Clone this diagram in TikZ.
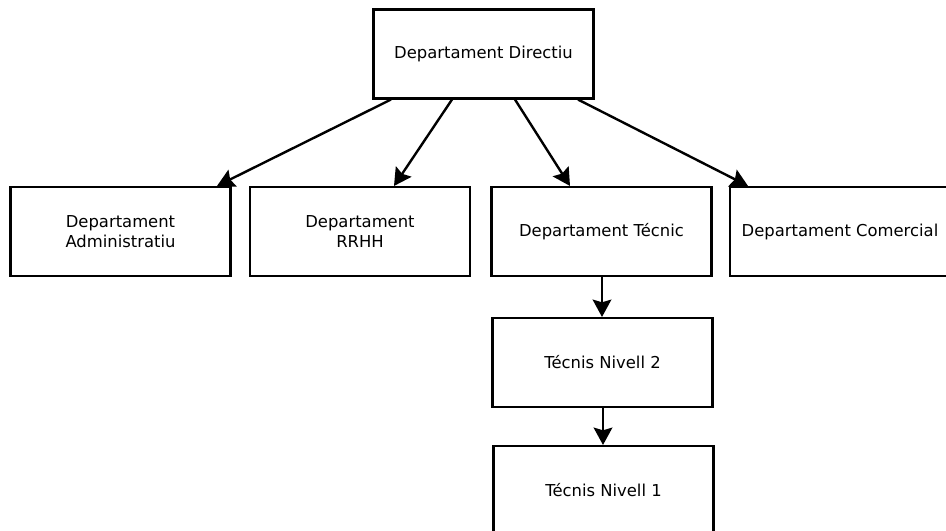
\documentclass[tikz,border=0pt]{standalone}
\usepackage{fontspec}
\setmainfont{DejaVu Sans}
\usetikzlibrary{arrows.meta}

\tikzset{
  deptbox/.style={draw, line width=1.8pt, minimum width=165pt, minimum height=66.5pt,
    inner sep=0pt, align=center, font=\fontsize{12.3}{15.5}\selectfont},
  arr/.style={-{Stealth[length=13pt,width=14pt,inset=2pt]}, line width=1.8pt}
}

\begin{document}
\begin{tikzpicture}[x=0.75pt,y=0.75pt,yscale=-1,xscale=1]
    \useasboundingbox (0,0) rectangle (946,531);
    \clip (0,0) rectangle (946,531);

    % boxes
    \node [deptbox] (dir) at (483.5,54) {Departament Directiu};
    \node [deptbox] (adm) at (120.5,231.5) {Departament\\Administratiu};
    \node [deptbox] (rrhh) at (360,231.5) {Departament\\RRHH};
    \node [deptbox] (tec) at (601.5,231.5) {Departament Técnic};
    \node [deptbox] (com) at (840,231.5) {Departament Comercial};
    \node [deptbox] (niv2) at (602.5,362.5) {Técnis Nivell 2};
    \node [deptbox] (niv1) at (603.5,490.5) {Técnis Nivell 1};

    % arrows
    \draw [arr] (dir.south -| 391,0) -- (adm.north -| 217,0);
    \draw [arr] (dir.south -| 452,0) -- (rrhh.north -| 394,0);
    \draw [arr] (dir.south -| 515,0) -- (tec.north -| 570,0);
    \draw [arr] (dir.south -| 578,0) -- (com.north -| 748,0);
    \draw [arr] (tec.south -| 602,0) -- (niv2.north -| 602,0);
    \draw [arr] (niv2.south -| 603,0) -- (niv1.north -| 603,0);

\end{tikzpicture}
\end{document}
